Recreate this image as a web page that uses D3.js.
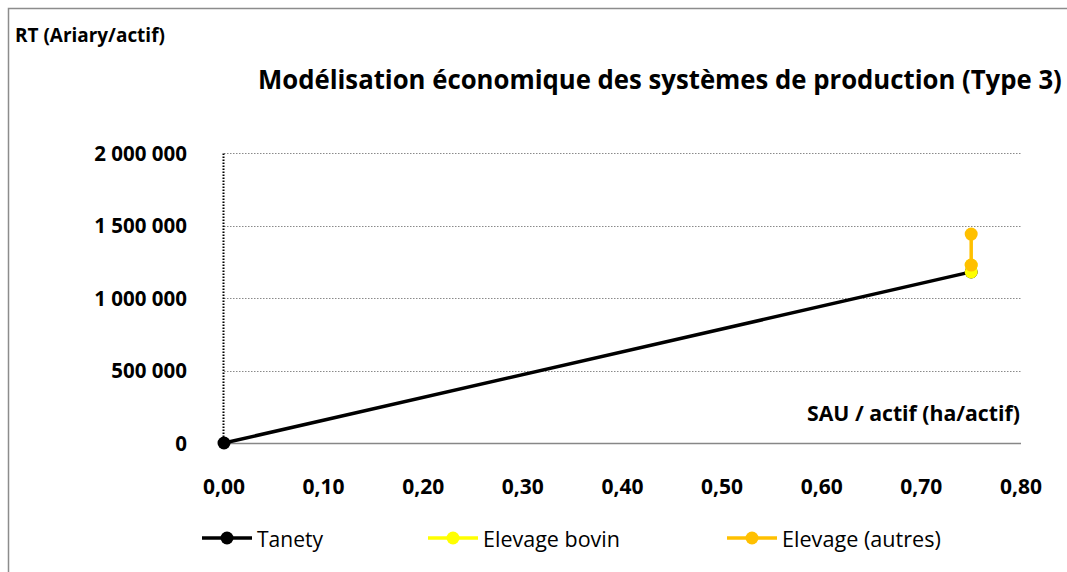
<!DOCTYPE html>
<html>
<head>
<meta charset="utf-8">
<script src="https://cdn.jsdelivr.net/npm/d3@7"></script>
<style>
  body { margin: 0; background: #fff; }
  svg { display: block; font-family: "Open Sans", Lato, sans-serif; }
</style>
</head>
<body>
<div id="chart"></div>
<script>
// series values
const tanetyX = [0, 0.75];
const tanetyY = [0, 1180000];
const bovinX = [0.75, 0.75];
const bovinY = [1180000, 1227000];
const autresX = [0.75, 0.75];
const autresY = [1227000, 1441000];

const seriesNames = ["Tanety", "Elevage bovin", "Elevage (autres)"];
const seriesColors = ["#000000", "#ffff00", "#ffc000"];

const xTicks = [0, 0.1, 0.2, 0.3, 0.4, 0.5, 0.6, 0.7, 0.8];
const yTicks = [0, 500000, 1000000, 1500000, 2000000];

const titleText = "Modélisation économique des systèmes de production (Type 3)";
const yTitle = "RT (Ariary/actif)";
const xTitle = "SAU / actif (ha/actif)";

const W = 1067, H = 572;
const margin = { left: 224, right: 46, top: 153, bottom: 129 };

const svg = d3.select("#chart").append("svg")
    .attr("width", W)
    .attr("height", H);

// chart frame (cut off at right and bottom)
svg.append("rect")
    .attr("x", 8.5).attr("y", 8.5)
    .attr("width", W + 20).attr("height", H + 20)
    .attr("fill", "none")
    .attr("stroke", "#8c8c8c")
    .attr("stroke-width", 1.5);

const x = d3.scaleLinear().domain([0, 0.8]).range([margin.left, W - margin.right]);
const y = d3.scaleLinear().domain([0, 2000000]).range([H - margin.bottom, margin.top]);

const fmtX = d => d3.format(".2f")(d).replace(".", ",");
const fmtY = d => d3.format(",")(d).replace(/,/g, " ");

// squeeze a text horizontally to a given width (Calibri is narrower than what we have)
function fitText(sel, px, py, width) {
    const w = sel.node().getComputedTextLength();
    sel.attr("transform", `translate(${px},${py}) scale(${width / w},1)`);
}

// gridlines
svg.append("g")
    .selectAll("line")
    .data(yTicks.filter(d => d > 0))
    .join("line")
    .attr("x1", x(0)).attr("x2", x(0.8))
    .attr("y1", d => Math.round(y(d)) + 0.5).attr("y2", d => Math.round(y(d)) + 0.5)
    .attr("stroke", "#8a8a8a")
    .attr("stroke-width", 1)
    .attr("stroke-dasharray", "1.5,1.5");

// y axis (dotted)
svg.append("line")
    .attr("x1", x(0) - 0.5).attr("x2", x(0) - 0.5)
    .attr("y1", y(0)).attr("y2", y(2000000))
    .attr("stroke", "#000")
    .attr("stroke-width", 2)
    .attr("stroke-dasharray", "1.5,1.5");

// x axis
svg.append("line")
    .attr("x1", x(0)).attr("x2", x(0.8))
    .attr("y1", y(0) + 0.5).attr("y2", y(0) + 0.5)
    .attr("stroke", "#878787")
    .attr("stroke-width", 1.5);

// tick labels
svg.append("g")
    .selectAll("text")
    .data(yTicks)
    .join("text")
    .attr("x", 187)
    .attr("y", d => y(d) + 7.5)
    .attr("text-anchor", "end")
    .attr("font-size", 20.5)
    .attr("font-weight", "bold")
    .text(fmtY);

svg.append("g")
    .selectAll("text")
    .data(xTicks)
    .join("text")
    .attr("x", d => x(d))
    .attr("y", 494)
    .attr("text-anchor", "middle")
    .attr("font-size", 21)
    .attr("font-weight", "bold")
    .text(fmtX);

// titles
const title = svg.append("text")
    .attr("font-size", 26)
    .attr("font-weight", "bold")
    .text(titleText);
fitText(title, 258, 89, 804);

const yLab = svg.append("text")
    .attr("font-size", 19.5)
    .attr("font-weight", "bold")
    .text(yTitle);
fitText(yLab, 15, 42, 150);

const xLab = svg.append("text")
    .attr("font-size", 22)
    .attr("font-weight", "bold")
    .text(xTitle);
fitText(xLab, 807, 421, 213);

// series
const series = [
    { xs: tanetyX, ys: tanetyY },
    { xs: bovinX, ys: bovinY },
    { xs: autresX, ys: autresY }
];
const line = d3.line().x(d => x(d[0])).y(d => y(d[1]));

series.forEach((s, i) => {
    const pts = s.xs.map((v, j) => [v, s.ys[j]]);
    const g = svg.append("g");
    g.append("path")
        .attr("d", line(pts))
        .attr("fill", "none")
        .attr("stroke", seriesColors[i])
        .attr("stroke-width", 3.5);
    g.selectAll("circle")
        .data(pts)
        .join("circle")
        .attr("cx", d => x(d[0]))
        .attr("cy", d => y(d[1]))
        .attr("r", 6.5)
        .attr("fill", seriesColors[i]);
});

// legend
const legendX = [202, 428, 727];
const legendW = [66, 137, 159];
const legend = svg.append("g");
seriesNames.forEach((name, i) => {
    const lx = legendX[i], ly = 538;
    legend.append("line")
        .attr("x1", lx).attr("x2", lx + 50)
        .attr("y1", ly).attr("y2", ly)
        .attr("stroke", seriesColors[i])
        .attr("stroke-width", 3.5);
    legend.append("circle")
        .attr("cx", lx + 25).attr("cy", ly)
        .attr("r", 6.5)
        .attr("fill", seriesColors[i]);
    const t = legend.append("text")
        .attr("font-size", 21.5)
        .text(name);
    fitText(t, lx + 55, ly + 8.5, legendW[i]);
});
</script>
</body>
</html>
